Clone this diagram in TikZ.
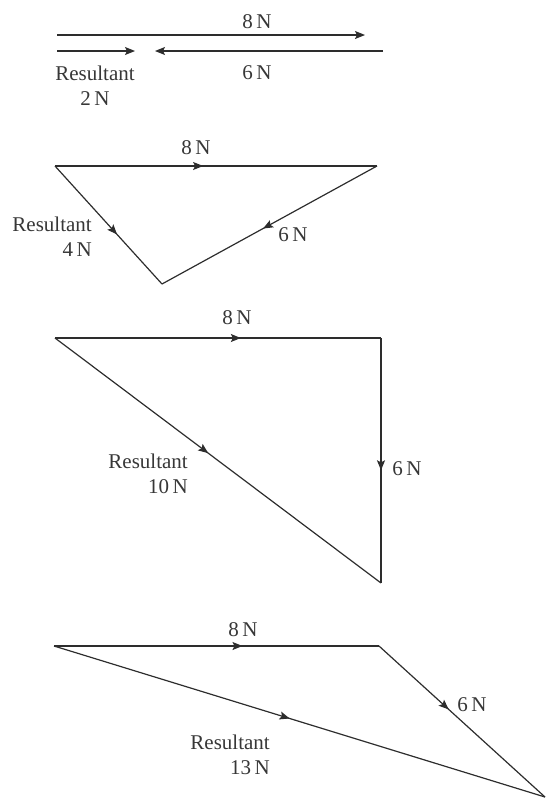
\documentclass[tikz,border=0pt]{standalone}
\usepackage{fontspec}
\setmainfont{Liberation Serif}
\definecolor{lineink}{RGB}{45,45,45}
\definecolor{textink}{RGB}{55,55,55}
\usetikzlibrary{arrows.meta,decorations.markings}
\begin{document}
\begin{tikzpicture}[x=1pt, y=-1pt,
    vec/.style={line width=1.2pt, lineink},
    arr/.style={vec, -{Stealth[length=10pt, width=8pt, inset=2pt]}},
    midarr/.style={vec, postaction={decorate, decoration={markings,
      mark=at position #1 with {\arrow{Stealth[length=10pt, width=8pt, inset=2pt]}}}}},
    lbl/.style={font=\fontsize{21}{25}\selectfont, text=textink, inner sep=0pt}
  ]
    \useasboundingbox (0,0) rectangle (551,801);

    % Straight line: 8 N and 6 N opposite
    \coordinate (a1) at (57,35);
    \coordinate (b1) at (365,35);
    \coordinate (r1) at (57,51);
    \coordinate (s1) at (135,51);
    \coordinate (p1) at (383,51);
    \coordinate (q1) at (155,51);
    \draw[arr] (a1) -- (b1);
    \draw[arr] (r1) -- (s1);
    \draw[arr] (p1) -- (q1);
    \node[lbl] (f8a) at (257,22) {8\,N};
    \node[lbl] (f6a) at (257,73) {6\,N};
    \node[lbl, align=center] (res1) at (95,86) {Resultant\\2\,N};

    % Obtuse triangle: 4 N
    \coordinate (a2) at (55,166);
    \coordinate (b2) at (377,166);
    \coordinate (c2) at (162,284);
    \draw[midarr=0.46] (a2) -- (b2);
    \draw[midarr=0.53] (b2) -- (c2);
    \draw[midarr=0.58] (a2) -- (c2);
    \node[lbl] (f8b) at (196,148) {8\,N};
    \node[lbl] (f6b) at (293,235) {6\,N};
    \node[lbl, align=right, anchor=east] (res2) at (92,237) {Resultant\\4\,N};

    % Right angle: 10 N
    \coordinate (a3) at (55,338);
    \coordinate (b3) at (381,338);
    \coordinate (c3) at (381,583);
    \draw[midarr=0.57] (a3) -- (b3);
    \draw[midarr=0.54] (b3) -- (c3);
    \draw[midarr=0.47] (a3) -- (c3);
    \node[lbl] (f8c) at (237,318) {8\,N};
    \node[lbl] (f6c) at (407,469) {6\,N};
    \node[lbl, align=right, anchor=east] (res3) at (188,474) {Resultant\\10\,N};

    % Same direction bent: 13 N
    \coordinate (a4) at (54,646);
    \coordinate (b4) at (379,646);
    \coordinate (c4) at (545,797);
    \draw[midarr=0.58] (a4) -- (b4);
    \draw[midarr=0.42] (b4) -- (c4);
    \draw[midarr=0.48] (a4) -- (c4);
    \node[lbl] (f8d) at (243,630) {8\,N};
    \node[lbl] (f6d) at (472,705) {6\,N};
    \node[lbl, align=right, anchor=east] (res4) at (270,755) {Resultant\\13\,N};
  \end{tikzpicture}
\end{document}
